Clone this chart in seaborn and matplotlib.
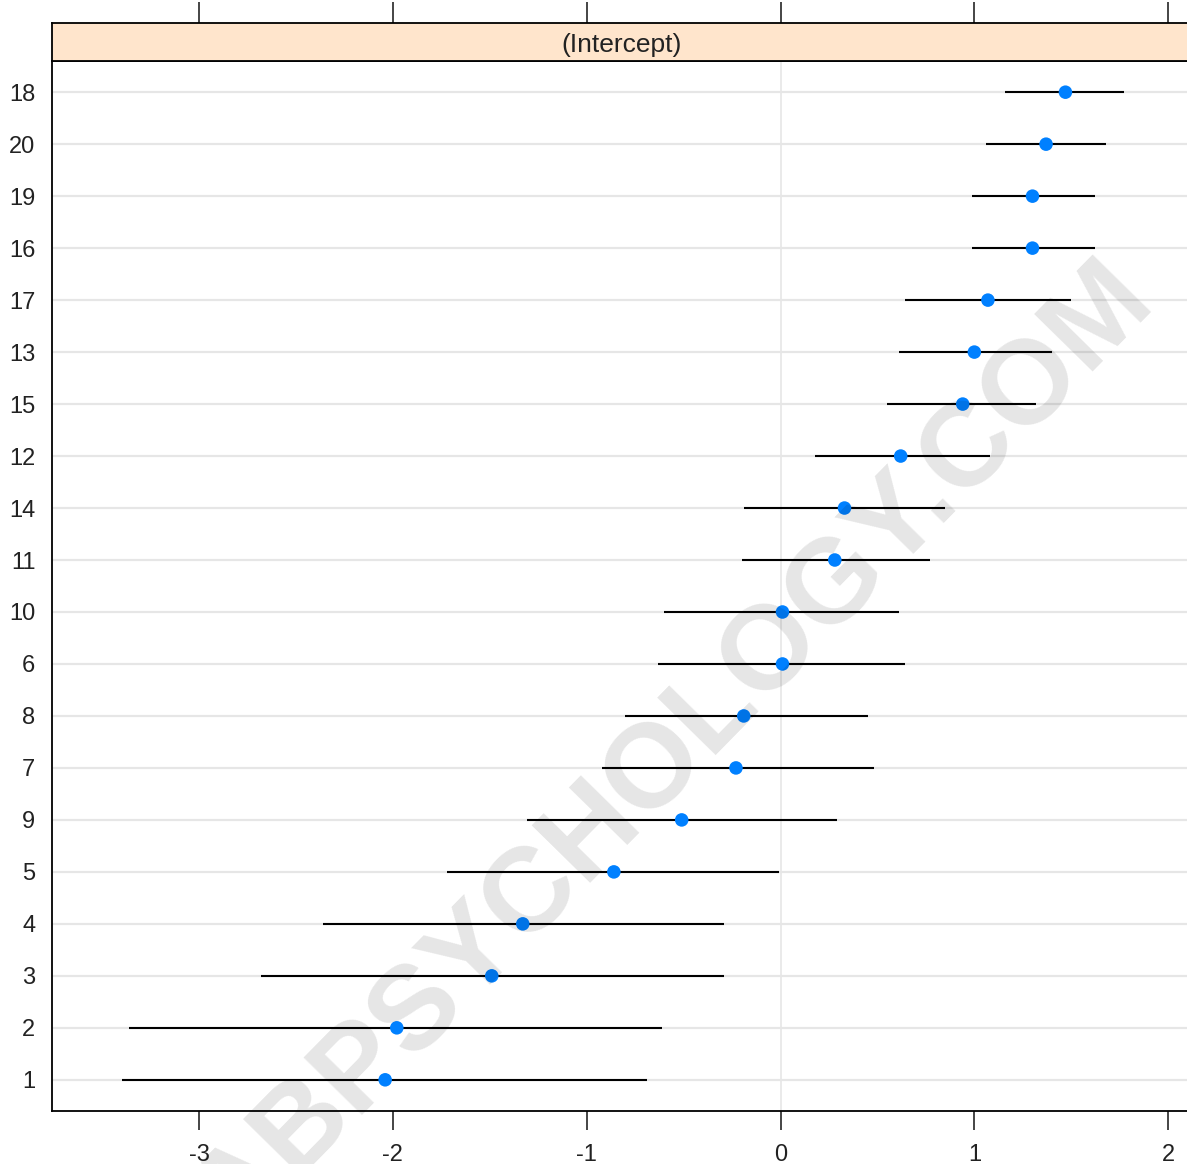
import numpy as np
import pandas as pd
import matplotlib
matplotlib.use('Agg')
import matplotlib.pyplot as plt
import seaborn as sns

# random intercepts per group, top to bottom as drawn
groups = ["18", "20", "19", "16", "17", "13", "15", "12", "14", "11",
          "10", "6", "8", "7", "9", "5", "4", "3", "2", "1"]
estimate = [1.47, 1.37, 1.30, 1.30, 1.07, 1.00, 0.94, 0.62, 0.33, 0.28,
            0.01, 0.01, -0.19, -0.23, -0.51, -0.86, -1.33, -1.49, -1.98, -2.04]
lower = [1.16, 1.06, 0.99, 0.99, 0.64, 0.61, 0.55, 0.18, -0.19, -0.20,
         -0.60, -0.63, -0.80, -0.92, -1.31, -1.72, -2.36, -2.68, -3.36, -3.40]
upper = [1.77, 1.68, 1.62, 1.62, 1.50, 1.40, 1.32, 1.08, 0.85, 0.77,
         0.61, 0.64, 0.45, 0.48, 0.29, -0.01, -0.29, -0.29, -0.61, -0.69]
x_ticks = [-3, -2, -1, 0, 1, 2]
panel_title = "(Intercept)"

sns.set_style('white')
plt.rcParams['font.family'] = ['Liberation Sans', 'DejaVu Sans']
plt.rcParams['axes.unicode_minus'] = False

W, H = 1187, 1164
fig = plt.figure(figsize=(W / 100, H / 100), dpi=100)


def box(x0, y0, x1, y1):
    return [x0 / W, 1 - y1 / H, (x1 - x0) / W, (y1 - y0) / H]


ax = fig.add_axes(box(52, 61, 1192, 1111))
strip = fig.add_axes(box(52, 23, 1192, 61), sharex=ax)

df = pd.DataFrame({'group': groups, 'est': estimate, 'lo': lower, 'hi': upper})
df['pos'] = np.arange(len(df))[::-1]

xlim = (-3.759, 2.123)
ax.set_xlim(*xlim)
ax.set_ylim(-0.6, len(df) - 1 + 0.6)

# reference lines
ax.hlines(df['pos'], xlim[0], xlim[1], color='#E6E6E6', lw=1.6, zorder=1)
ax.axvline(0, color='#E6E6E6', lw=1.2, zorder=1)

# intervals and points
ax.hlines(df['pos'], df['lo'], df['hi'], color='black', lw=1.5, zorder=2)
sns.scatterplot(data=df, x='est', y='pos', color='#0080FF', s=95, marker='o',
                edgecolor='none', zorder=3, ax=ax, legend=False)

ax.set_xlabel('')
ax.set_ylabel('')
ax.set_yticks(df['pos'], df['group'])
ax.set_xticks(x_ticks)
ax.tick_params(axis='y', length=0, pad=12, labelsize=17, labelcolor='#222222')
ax.tick_params(axis='x', length=14, width=1.2, pad=10, labelsize=17,
               labelcolor='#222222', direction='out', bottom=True, labelbottom=True)
for s in ax.spines.values():
    s.set_linewidth(1.3)
    s.set_color('black')

# strip on top
strip.set_facecolor('#FFE5CC')
strip.set_yticks([])
strip.tick_params(axis='x', top=True, bottom=False, labeltop=False,
                  labelbottom=False, length=15, width=1.2, direction='out')
for s in strip.spines.values():
    s.set_linewidth(1.3)
    s.set_color('black')
strip.text(0.5, 0.42, panel_title, transform=strip.transAxes,
           ha='center', va='center', fontsize=19, color='#222222')

# watermark
fig.text(0.568, 0.355, 'ABPSYCHOLOGY.COM', rotation=45.5, fontsize=86,
         fontweight='bold', color='black', alpha=0.10, ha='center',
         va='center', rotation_mode='anchor',
         family=['Liberation Sans', 'DejaVu Sans'], zorder=10)

fig.savefig('out.png', dpi=100)
